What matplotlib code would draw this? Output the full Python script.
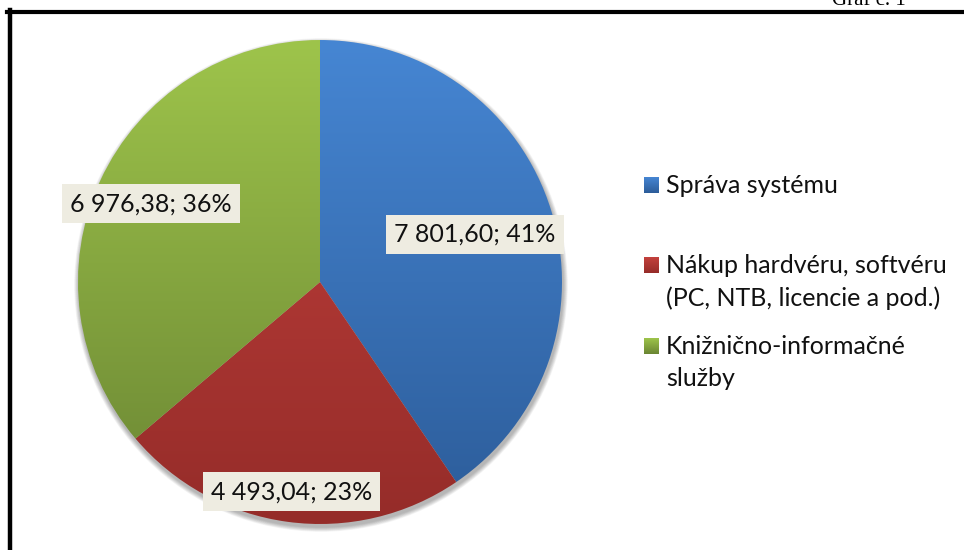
import numpy as np
import matplotlib
matplotlib.use("Agg")
import matplotlib.pyplot as plt
from matplotlib.colors import LinearSegmentedColormap
from matplotlib.patches import Circle
from matplotlib.lines import Line2D

# Data
categories = ["Správa systému",
              "Nákup hardvéru, softvéru\n(PC, NTB, licencie a pod.)",
              "Knižnično-informačné\nslužby"]
values = [7801.60, 4493.04, 6976.38]

# Styles
top_colors = ["#4686D3", "#C4413D", "#9EC44B"]
bottom_colors = ["#2C5C99", "#952C29", "#6A8533"]
label_dist = [0.67, 0.875, 0.77]        # label distance from centre, fraction of radius
legend_y = [193, 273, 354]              # baseline of first legend line of each entry (px from top)
line_step = 32.5                        # legend line spacing in px

W, H = 964, 550
cx, cy, R = 320, H - 282, 242           # pie centre and radius in pixels

plt.rcParams['font.family'] = ['Lato', 'DejaVu Sans']

fig = plt.figure(figsize=(W / 100, H / 100), dpi=100)
ax = fig.add_axes([0, 0, 1, 1])

# soft shadow under the pie
for k in range(8, 0, -1):
    ax.add_patch(Circle((cx + 1, cy - 3), R + k * 0.6, color="#000000", alpha=0.04, lw=0, zorder=1))

wedges, _ = ax.pie(values, startangle=90, counterclock=False, center=(cx, cy), radius=R,
                   wedgeprops=dict(linewidth=0))

# vertical gradient fill, clipped to each wedge
grad = np.linspace(0, 1, 256).reshape(-1, 1)
cmaps = [LinearSegmentedColormap.from_list("g%d" % i, [b, t])
         for i, (t, b) in enumerate(zip(top_colors, bottom_colors))]
for w, cmap in zip(wedges, cmaps):
    w.set_facecolor("none")
    w.set_zorder(3)
    im = ax.imshow(grad, cmap=cmap, origin="lower", aspect="auto",
                   extent=[cx - R, cx + R, cy - R, cy + R], zorder=2)
    im.set_clip_path(w)

# percentages rounded so they add up to 100 (largest remainder, like Excel)
total = sum(values)
raw = [v / total * 100 for v in values]
pct = [int(p) for p in raw]
order = sorted(range(len(raw)), key=lambda i: raw[i] - pct[i], reverse=True)
for i in order[:100 - sum(pct)]:
    pct[i] += 1

# data labels
for w, v, p, d in zip(wedges, values, pct, label_dist):
    mid = np.deg2rad((w.theta1 + w.theta2) / 2)
    txt = f"{v:,.2f}".replace(",", " ").replace(".", ",") + f"; {p}%"
    ax.text(cx + d * R * np.cos(mid), cy + d * R * np.sin(mid), txt,
            ha="center", va="center", fontsize=18, color="#111111", zorder=5,
            bbox=dict(boxstyle="square,pad=0.32", fc="#EEECE1", ec="none"))

# legend drawn by hand so the marker sits on the first line
for cmap, lab, y in zip(cmaps, categories, legend_y):
    sq = ax.imshow(grad, cmap=cmap, origin="lower", aspect="auto",
                   extent=[644, 659, H - y, H - y + 16], zorder=5)
    for j, line in enumerate(lab.split("\n")):
        ax.text(666, H - y - j * line_step, line, ha="left", va="baseline",
                fontsize=18, color="#111111", zorder=5)

ax.set_xlim(0, W)
ax.set_ylim(0, H)
ax.set_aspect("equal")
ax.axis("off")

# frame and caption (caption is cut by the top edge, as in the source page)
fig.add_artist(Line2D([7 / W, 1], [1 - 11.5 / H, 1 - 11.5 / H], color="black", lw=3))
fig.add_artist(Line2D([9.5 / W, 9.5 / W], [0, 1 - 10 / H], color="black", lw=3.2))
fig.text(906 / W, 1 - 5 / H, "Graf č. 1", ha="right", va="baseline",
         family="Liberation Serif", fontsize=15, color="black")

fig.savefig("out.png", dpi=100)
